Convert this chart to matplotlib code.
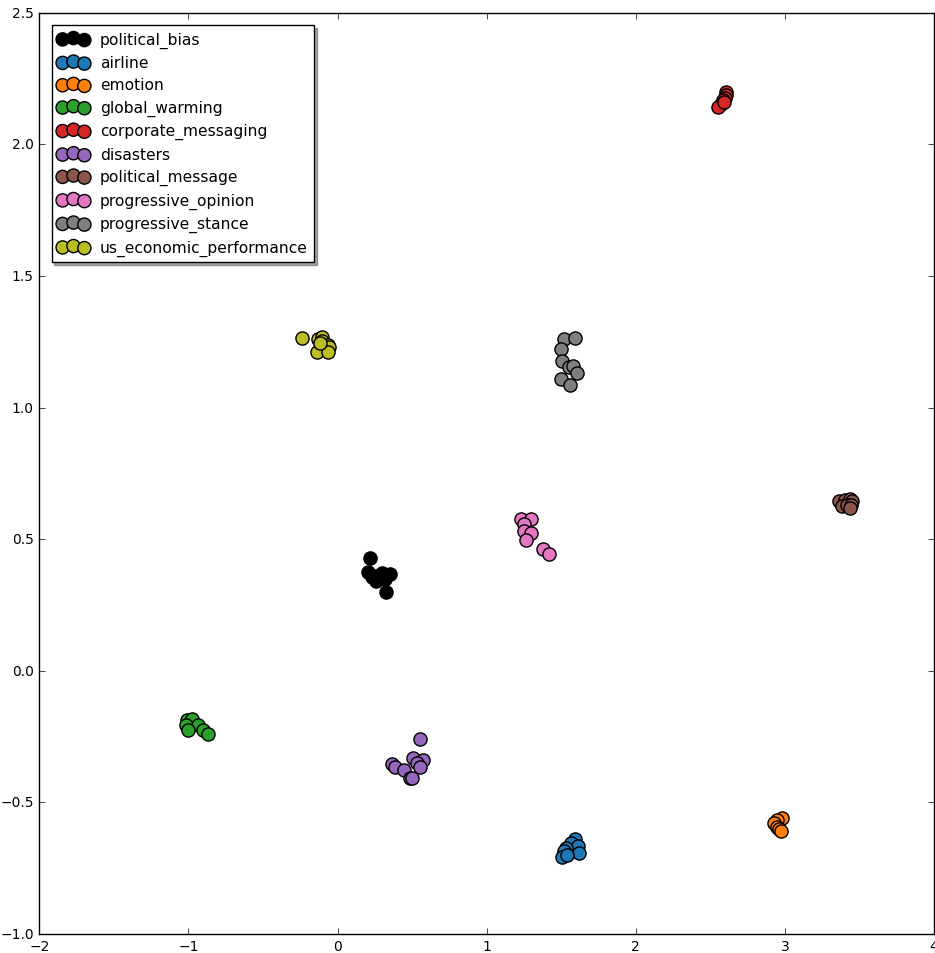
import matplotlib
matplotlib.use('Agg')
import matplotlib.pyplot as plt

labels = ['political_bias', 'airline', 'emotion', 'global_warming',
          'corporate_messaging', 'disasters', 'political_message',
          'progressive_opinion', 'progressive_stance', 'us_economic_performance']
colors = ['black', '#1f77b4', '#ff7f0e', '#2ca02c', '#d62728',
          '#9467bd', '#8c564b', '#e377c2', '#7f7f7f', '#bcbd22']

political_bias_x = [0.221, 0.201, 0.248, 0.295, 0.349, 0.315, 0.261, 0.328, 0.228, 0.300]
political_bias_y = [0.428, 0.375, 0.360, 0.367, 0.367, 0.348, 0.341, 0.299, 0.356, 0.372]
airline_x = [1.595, 1.568, 1.615, 1.622, 1.535, 1.521, 1.508, 1.540]
airline_y = [-0.640, -0.655, -0.667, -0.693, -0.674, -0.686, -0.708, -0.700]
emotion_x = [2.983, 2.949, 2.929, 2.949, 2.962, 2.976]
emotion_y = [-0.561, -0.568, -0.580, -0.595, -0.602, -0.610]
global_warming_x = [-1.012, -0.979, -1.019, -0.938, -1.005, -0.905, -0.871]
global_warming_y = [-0.189, -0.182, -0.205, -0.205, -0.227, -0.227, -0.242]
corporate_x = [2.607, 2.607, 2.601, 2.587, 2.574, 2.554, 2.594]
corporate_y = [2.201, 2.189, 2.178, 2.167, 2.155, 2.144, 2.163]
disasters_x = [0.550, 0.503, 0.570, 0.536, 0.556, 0.362, 0.382, 0.449, 0.483, 0.496]
disasters_y = [-0.258, -0.333, -0.341, -0.352, -0.364, -0.356, -0.367, -0.379, -0.409, -0.409]
political_message_x = [3.365, 3.405, 3.438, 3.452, 3.385, 3.418, 3.445, 3.438]
political_message_y = [0.644, 0.648, 0.652, 0.644, 0.625, 0.629, 0.629, 0.617]
prog_opinion_x = [1.227, 1.294, 1.247, 1.253, 1.294, 1.267, 1.381, 1.421]
prog_opinion_y = [0.576, 0.576, 0.557, 0.530, 0.523, 0.496, 0.462, 0.443]
prog_stance_x = [1.521, 1.595, 1.501, 1.508, 1.555, 1.582, 1.609, 1.501, 1.562]
prog_stance_y = [1.261, 1.265, 1.223, 1.178, 1.155, 1.159, 1.133, 1.110, 1.087]
us_econ_x = [-0.235, -0.134, -0.101, -0.101, -0.067, -0.054, -0.141, -0.067, -0.120]
us_econ_y = [1.265, 1.261, 1.269, 1.254, 1.239, 1.231, 1.212, 1.212, 1.246]

xs = [political_bias_x, airline_x, emotion_x, global_warming_x, corporate_x,
      disasters_x, political_message_x, prog_opinion_x, prog_stance_x, us_econ_x]
ys = [political_bias_y, airline_y, emotion_y, global_warming_y, corporate_y,
      disasters_y, political_message_y, prog_opinion_y, prog_stance_y, us_econ_y]

plt.style.use('classic')
fig = plt.figure(figsize=(9.35, 9.54), dpi=100, facecolor='white')
ax = fig.add_axes([0.042, 0.020, 0.957, 0.9655])

for x, y, c, lab in zip(xs, ys, colors, labels):
    ax.scatter(x, y, s=90, c=c, edgecolors='black', linewidths=1, label=lab)

ax.set_xlim(-2, 4)
ax.set_ylim(-1.0, 2.5)
ax.tick_params(labelsize=10)
ax.legend(loc='upper left', scatterpoints=3, shadow=True, fontsize=11.2,
          handletextpad=0.7, borderpad=0.4, labelspacing=0.47,
          borderaxespad=0.8)

fig.savefig('out.png', dpi=100, facecolor='white')
